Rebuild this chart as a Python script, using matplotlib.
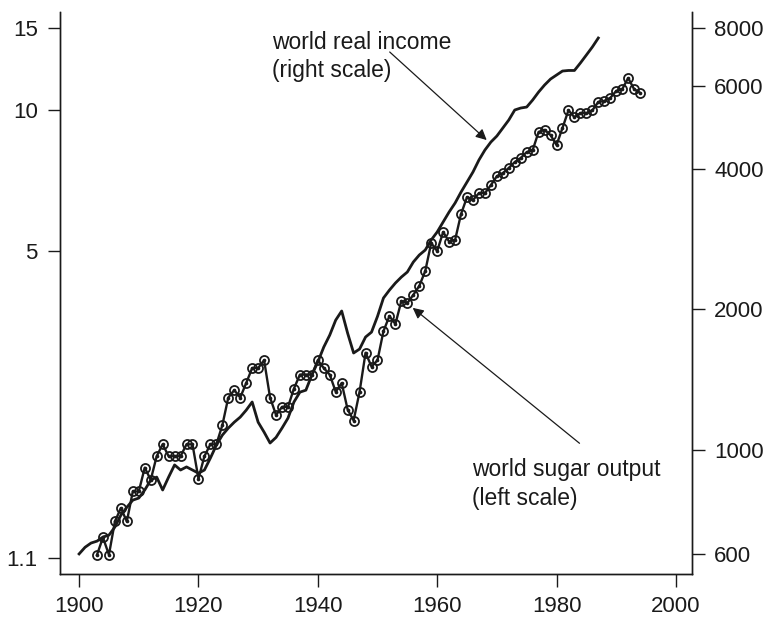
# world sugar output vs world real income, log scales on both sides

import matplotlib
matplotlib.use('Agg')
import matplotlib.pyplot as plt
from matplotlib.ticker import NullLocator

plt.rcParams['font.family'] = ['Liberation Sans', 'DejaVu Sans']

# world sugar output (left scale), 1903-1994
sugar_years = list(range(1903, 1995))
sugar = [1.12, 1.22, 1.12, 1.32, 1.41, 1.32, 1.53, 1.53, 1.72, 1.62,
         1.82, 1.93, 1.82, 1.82, 1.82, 1.93, 1.93, 1.63, 1.82, 1.93,
         1.93, 2.12, 2.43, 2.52, 2.43, 2.61, 2.81, 2.81, 2.92, 2.43,
         2.23, 2.32, 2.32, 2.54, 2.72, 2.72, 2.72, 2.92, 2.81, 2.72,
         2.50, 2.61, 2.29, 2.17, 2.50, 3.03, 2.83, 2.92, 3.37, 3.63,
         3.49, 3.91, 3.87, 4.03, 4.21, 4.53, 5.20, 5.00, 5.49, 5.24,
         5.28, 6.00, 6.52, 6.43, 6.65, 6.65, 6.92, 7.23, 7.34, 7.53,
         7.75, 7.91, 8.14, 8.22, 8.99, 9.08, 8.85, 8.43, 9.17, 10.0,
         9.67, 9.86, 9.86, 10.0, 10.42, 10.47, 10.63, 11.0, 11.1, 11.72,
         11.1, 10.9]

# world real income (right scale), 1900-1987
income_years = list(range(1900, 1988))
income = [600, 620, 633, 639, 652, 658, 685, 726, 755, 782,
          790, 822, 863, 876, 822, 876, 930, 907, 921, 907,
          893, 907, 962, 1025, 1077, 1115, 1148, 1177, 1218, 1268,
          1148, 1093, 1036, 1065, 1115, 1171, 1268, 1331, 1344, 1448,
          1544, 1662, 1763, 1898, 1985, 1779, 1614, 1646, 1746, 1789,
          1933, 2116, 2200, 2278, 2346, 2405, 2526, 2615, 2680, 2816,
          2929, 3077, 3232, 3378, 3566, 3746, 3936, 4176, 4386, 4562,
          4699, 4888, 5085, 5342, 5394, 5420, 5611, 5837, 6042, 6222,
          6346, 6472, 6490, 6490, 6734, 7003, 7285, 7615]

x_ticks = [1900, 1920, 1940, 1960, 1980, 2000]
left_ticks = [1.1, 5, 10, 15]
left_labels = ['1.1', '5', '10', '15']
right_ticks = [600, 1000, 2000, 4000, 6000, 8000]
right_labels = ['600', '1000', '2000', '4000', '6000', '8000']

ink = '#1a1a1a'

fig = plt.figure(figsize=(7.7, 6.17), dpi=100)
ax = fig.add_axes([60 / 770, 1 - 574 / 617, 632 / 770, 562 / 617])
ax2 = ax.twinx()

# sugar: line with open circles (dot in the middle)
ax.plot(sugar_years, sugar, color=ink, lw=1.7, marker='o', ms=6.5,
        mfc='none', mec=ink, mew=1.3, zorder=3)
ax.plot(sugar_years, sugar, ls='none', marker='o', ms=1.6, color=ink,
        zorder=4)
# income: plain thicker line
ax2.plot(income_years, income, color=ink, lw=2.0)

ax.set_yscale('log')
ax2.set_yscale('log')
ax.set_xlim(1896.8, 2002.7)
ax.set_ylim(1.019, 16.23)
ax2.set_ylim(543.5, 8656)

ax.set_xticks(x_ticks)
ax.set_yticks(left_ticks)
ax.set_yticklabels(left_labels)
ax2.set_yticks(right_ticks)
ax2.set_yticklabels(right_labels)
ax.yaxis.set_minor_locator(NullLocator())
ax2.yaxis.set_minor_locator(NullLocator())

for a in (ax, ax2):
    a.spines['top'].set_visible(False)
    for s in a.spines.values():
        s.set_linewidth(1.0)
        s.set_color(ink)
    a.tick_params(axis='both', direction='out', length=9, width=1.0,
                  color=ink, labelsize=16, pad=7, labelcolor=ink)

# labels with arrows
ax2.text(1932.3, 7900, 'world real income\n(right scale)', ha='left',
         va='top', fontsize=16.5, color=ink, linespacing=1.3)
ax2.annotate('', xy=(1968.3, 4607), xytext=(1952.05, 7108),
             arrowprops=dict(arrowstyle='-|>', lw=0.9, color=ink,
                             mutation_scale=16, shrinkA=0, shrinkB=0))

ax.text(1965.9, 1.80, 'world sugar output\n(left scale)', ha='left',
        va='top', fontsize=16.5, color=ink, linespacing=1.3)
ax.annotate('', xy=(1955.9, 3.78), xytext=(1983.85, 1.94),
            arrowprops=dict(arrowstyle='-|>', lw=0.9, color=ink,
                            mutation_scale=16, shrinkA=0, shrinkB=0))

fig.savefig('out.png', dpi=100)
